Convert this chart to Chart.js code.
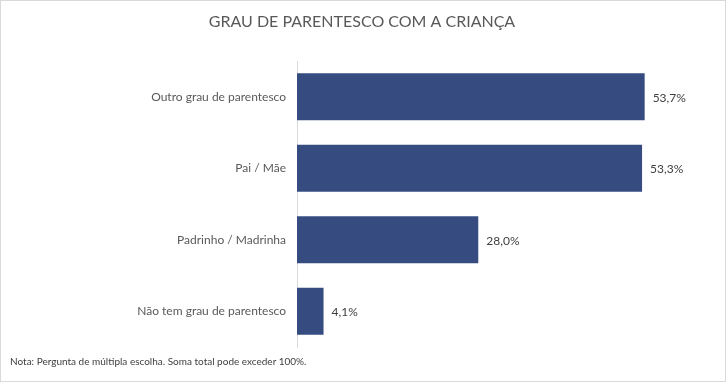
<!DOCTYPE html>
<html><head><meta charset="utf-8">
<script src="https://cdn.jsdelivr.net/npm/chart.js@4"></script>
<style>
html,body{margin:0;padding:0;background:#fff;}
#wrap{position:relative;width:726px;height:382px;box-sizing:border-box;border:1px solid #d9d9d9;overflow:hidden;}
canvas{position:absolute;left:0;top:0;}
#note{position:absolute;left:9px;top:354px;font-family:Lato,sans-serif;font-size:10px;color:#404040;white-space:nowrap;}
</style></head>
<body>
<div id="wrap"><canvas id="c" width="722" height="380"></canvas>
<div id="note">Nota: Pergunta de múltipla escolha. Soma total pode exceder 100%.</div></div>
<script>
const titleText = "GRAU DE PARENTESCO COM A CRIANÇA";
const categories = ["Outro grau de parentesco","Pai / Mãe","Padrinho / Madrinha","Não tem grau de parentesco"];
const values = [53.7, 53.3, 28.0, 4.1];
const valueLabels = ["53,7%","53,3%","28,0%","4,1%"];

const labelPlugin = {
  id:'vlabels',
  afterDatasetsDraw(chart){
    const ctx = chart.ctx;
    const meta = chart.getDatasetMeta(0);
    ctx.save();
    ctx.font = '12px Lato, sans-serif';
    ctx.fillStyle = '#404040';
    ctx.textAlign = 'left';
    ctx.textBaseline = 'middle';
    meta.data.forEach((bar,i)=>{
      ctx.fillText(valueLabels[i], bar.x + 8, bar.y + 1);
    });
    ctx.restore();
  }
};

new Chart(document.getElementById('c'), {
  type:'bar',
  data:{ labels: categories, datasets:[{ data: values, backgroundColor:'#364C80', borderWidth:0, categoryPercentage:1, barPercentage:0.66 }]},
  options:{
    indexAxis:'y',
    responsive:false,
    animation:false,
    layout:{ padding:{ left:0, right:0, top:0, bottom:34 } },
    plugins:{
      legend:{display:false},
      tooltip:{enabled:false},
      title:{ display:true, text:titleText, color:'#595959', font:{family:'Lato, sans-serif', size:16, weight:'normal'}, padding:{top:11.4, bottom:29.4} }
    },
    scales:{
      x:{ display:false, min:0, max:65.8 },
      y:{
        afterFit(scale){ scale.width = 296; },
        grid:{ display:false, drawTicks:false },
        border:{ display:true, color:'#d9d9d9', width:1 },
        ticks:{ color:'#595959', padding:11, font:{family:'Lato, sans-serif', size:12} }
      }
    }
  },
  plugins:[labelPlugin]
});
</script>
</body></html>
